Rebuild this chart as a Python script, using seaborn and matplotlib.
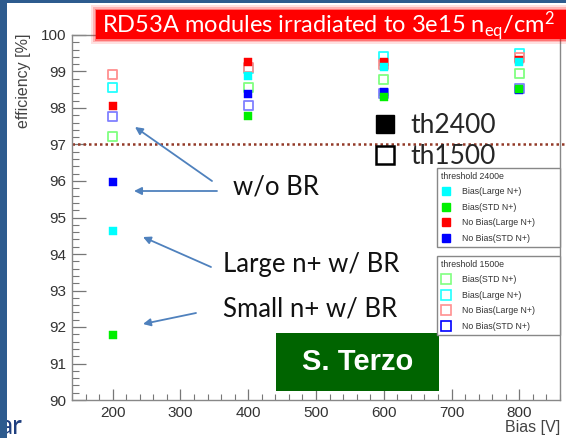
import numpy as np
import pandas as pd
import matplotlib
matplotlib.use("Agg")
import matplotlib.pyplot as plt
import seaborn as sns
from matplotlib.lines import Line2D
from matplotlib.patches import Rectangle
from matplotlib.ticker import MultipleLocator

# ---------------- data ----------------
bias = [200, 400, 600, 800]
# threshold 2400e (filled markers)
th2400_bias_large = [94.63, 98.87, 99.12, 99.25]      # cyan
th2400_bias_std = [91.78, 97.78, 98.30, 98.52]        # green
th2400_nobias_large = [98.05, 99.26, 99.27, 99.31]    # red
th2400_nobias_std = [95.97, 98.38, 98.45, 98.50]      # blue
# threshold 1500e (open markers)
th1500_bias_std = [97.22, 98.56, 98.79, 98.95]        # green
th1500_bias_large = [98.55, 99.07, 99.42, 99.48]      # cyan
th1500_nobias_large = [98.92, 99.10, 99.20, 99.38]    # red
th1500_nobias_std = [97.77, 98.07, 98.40, 98.53]      # blue

legend_2400 = ["Bias(Large N+)", "Bias(STD N+)", "No Bias(Large N+)", "No Bias(STD N+)"]
legend_1500 = ["Bias(STD N+)", "Bias(Large N+)", "No Bias(Large N+)", "No Bias(STD N+)"]
x_limits = [140, 860]
y_limits = [90, 100]
threshold_line = 97

W, H = 566, 438
def fxy(px, py):
    return (px / W, 1 - py / H)

sns.set_style("white")
plt.rcParams["font.family"] = ["Liberation Sans", "DejaVu Sans"]
plt.rcParams["mathtext.default"] = "regular"

fig = plt.figure(figsize=(W / 100, H / 100), dpi=100)
fig.patch.set_facecolor("white")
ax = fig.add_axes([72 / W, 1 - 400 / H, 488 / W, 365 / H])
ax.set_facecolor("white")

C_CYAN, C_GREEN, C_RED, C_BLUE = "#00FFFF", "#00F000", "#FF0000", "#0000FF"
O_CYAN, O_GREEN, O_RED, O_BLUE = "#22FFFF", "#80FF80", "#FF9090", "#8080FF"

open_series = [
    ("1500 Bias(STD N+)", th1500_bias_std, O_GREEN),
    ("1500 Bias(Large N+)", th1500_bias_large, O_CYAN),
    ("1500 No Bias(Large N+)", th1500_nobias_large, O_RED),
    ("1500 No Bias(STD N+)", th1500_nobias_std, O_BLUE),
]
filled_series = [
    ("2400 No Bias(STD N+)", th2400_nobias_std, C_BLUE),
    ("2400 No Bias(Large N+)", th2400_nobias_large, C_RED),
    ("2400 Bias(Large N+)", th2400_bias_large, C_CYAN),
    ("2400 Bias(STD N+)", th2400_bias_std, C_GREEN),
]

rows = []
for name, vals, _ in open_series + filled_series:
    for b, v in zip(bias, vals):
        rows.append({"bias": b, "efficiency": v, "series": name})
df = pd.DataFrame(rows)

for name, _, col in open_series:
    sns.scatterplot(data=df[df.series == name], x="bias", y="efficiency", ax=ax,
                    marker="s", s=42, color=col, facecolor="none", edgecolor=col,
                    linewidth=1.3, legend=False, zorder=3)
for name, _, col in filled_series:
    sns.scatterplot(data=df[df.series == name], x="bias", y="efficiency", ax=ax,
                    marker="s", s=26, color=col, edgecolor=col, linewidth=0.3,
                    legend=False, zorder=4)

ax.set_xlim(*x_limits)
ax.set_ylim(*y_limits)
ax.xaxis.set_major_locator(MultipleLocator(100))
ax.xaxis.set_minor_locator(MultipleLocator(20))
ax.yaxis.set_major_locator(MultipleLocator(1))
ax.yaxis.set_minor_locator(MultipleLocator(0.2))
ax.tick_params(axis="both", which="both", direction="in", color="#777777",
               labelcolor="#333333", labelsize=11, top=False, right=False,
               bottom=True, left=True)
ax.tick_params(axis="x", which="major", length=8, width=0.9, pad=4)
ax.tick_params(axis="x", which="minor", length=4, width=0.8)
ax.tick_params(axis="y", which="major", length=10, width=0.9, pad=4)
ax.tick_params(axis="y", which="minor", length=5, width=0.8)
for sp in ax.spines.values():
    sp.set_color("#888888")
    sp.set_linewidth(1.0)

ax.set_xlabel("Bias [V]", loc="right", fontsize=11.5, color="#444444")
ax.xaxis.set_label_coords(1.0, -0.054)
ax.set_ylabel("efficiency [%]", loc="top", fontsize=11.5, color="#444444")
ax.yaxis.set_label_coords(-0.085, 1.005)

# 97% dotted line
ax.axhline(threshold_line, xmin=0, xmax=(W - 72) / 488, color="#933A28",
           ls=(0, (1, 1.2)), lw=1.8, clip_on=False, zorder=2)

# annotations with arrows
arrow_col = "#4F81BD"
ap = dict(arrowstyle="-|>", color=arrow_col, lw=1.3, mutation_scale=11,
          shrinkA=0, shrinkB=0)
for tail, tip in [((212, 181), (135, 127)), ((217, 191), (134, 191)),
                  ((211, 267), (143, 237)), ((196, 313), (143, 324))]:
    ax.annotate("", xy=fxy(*tip), xycoords="figure fraction",
                xytext=fxy(*tail), textcoords="figure fraction",
                arrowprops=ap, zorder=6)
ann_font = dict(family=["Lato", "DejaVu Sans"], fontsize=18.5, color="#111111")
fig.text(*fxy(233, 195), "w/o BR", ha="left", va="baseline", **ann_font)
fig.text(*fxy(223, 272), "Large n+ w/ BR", ha="left", va="baseline", **ann_font)
fig.text(*fxy(223, 317), "Small n+ w/ BR", ha="left", va="baseline", **ann_font)

# S. Terzo box
fig.add_artist(Rectangle(fxy(276, 391), 163 / W, 58 / H, transform=fig.transFigure,
                         facecolor="#006400", edgecolor="none", zorder=5))
fig.text(*fxy(357.5, 362), "S. Terzo", ha="center", va="center", fontsize=21,
         fontweight="bold", color="white", zorder=6)

# th2400 / th1500 legend
big_handles = [
    Line2D([], [], marker="s", ls="none", markersize=13.5, markerfacecolor="black",
           markeredgecolor="black"),
    Line2D([], [], marker="s", ls="none", markersize=12.5, markerfacecolor="white",
           markeredgecolor="black", markeredgewidth=1.8),
]
lg0 = fig.legend(big_handles, ["th2400", "th1500"], loc="upper left",
                 bbox_to_anchor=fxy(372, 113), frameon=False,
                 prop={"family": ["Lato", "DejaVu Sans"], "size": 19},
                 handlelength=1.0, handletextpad=0.45, labelspacing=0.22,
                 borderpad=0, borderaxespad=0)

# threshold legends
def small_handles(cols, filled):
    hs = []
    for c in cols:
        if filled:
            hs.append(Line2D([], [], marker="s", ls="none", markersize=6,
                             markerfacecolor=c, markeredgecolor=c))
        else:
            hs.append(Line2D([], [], marker="s", ls="none", markersize=7,
                             markerfacecolor="none", markeredgecolor=c,
                             markeredgewidth=1.2))
    return hs

leg_kw = dict(loc="upper left", mode="expand", fontsize=6.3, title_fontsize=6.3,
              frameon=True, fancybox=False, framealpha=1, edgecolor="#888888",
              alignment="left", handlelength=1.2, handletextpad=1.2,
              labelspacing=0.75, borderpad=0.45, borderaxespad=0)
lg1 = fig.legend(small_handles([C_CYAN, C_GREEN, C_RED, C_BLUE], True), legend_2400,
                 title="threshold 2400e",
                 bbox_to_anchor=(437 / W, 1 - 172 / H, 123 / W, 0.01), **leg_kw)
lg2 = fig.legend(small_handles([O_GREEN, O_CYAN, O_RED, C_BLUE], False), legend_1500,
                 title="threshold 1500e",
                 bbox_to_anchor=(437 / W, 1 - 260 / H, 123 / W, 0.01), **leg_kw)
for lg in (lg1, lg2):
    for t in lg.get_texts():
        t.set_color("#333333")
    lg.get_title().set_color("#333333")
    lg.get_frame().set_linewidth(1.0)

# red banner title with glow
for pad, a in [(5, 0.12), (3, 0.2), (1.5, 0.35)]:
    fig.add_artist(Rectangle(fxy(96 - pad, 39 + pad), (W - 96 + 2 * pad) / W,
                             (29 + 2 * pad) / H, transform=fig.transFigure,
                             facecolor="#FF0000", edgecolor="none", alpha=a, zorder=7))
fig.add_artist(Rectangle(fxy(96, 39), (W - 96) / W, 29 / H, transform=fig.transFigure,
                         facecolor="#FF0000", edgecolor="none", zorder=8))
fig.text(*fxy(102, 26), r"RD53A modules irradiated to 3e15 n$_{eq}$/cm$^{2}$",
         ha="left", va="center", fontsize=17, color="white",
         family=["Lato", "DejaVu Sans"], zorder=9)

# slide border and partial text
fig.text(*fxy(-1, 434), "ar", ha="left", va="baseline", fontsize=19,
         color="#1F3F7F", family=["Lato", "DejaVu Sans"], zorder=9)
fig.add_artist(Rectangle((0, 0), 7 / W, 1, transform=fig.transFigure,
                         facecolor="#2D5B8E", edgecolor="none", zorder=10))
fig.add_artist(Rectangle((0, 1 - 3 / H), 1, 3 / H, transform=fig.transFigure,
                         facecolor="#2D5B8E", edgecolor="none", zorder=10))

fig.savefig("out.png", dpi=100)
